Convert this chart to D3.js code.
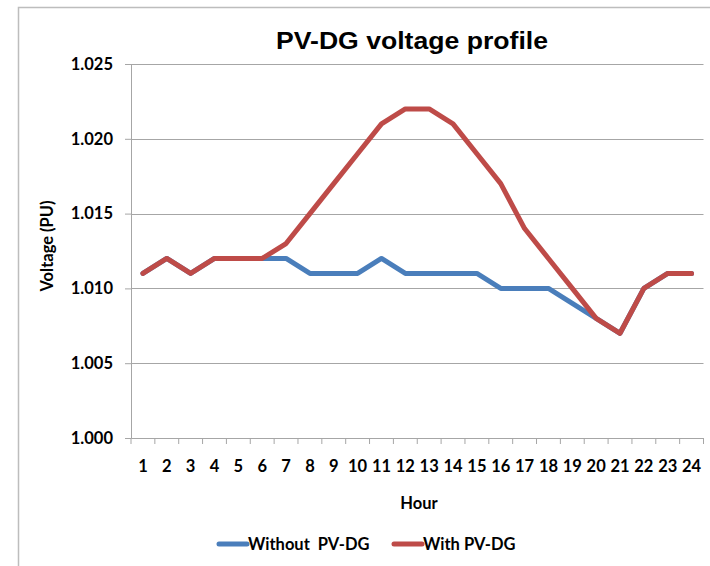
<!DOCTYPE html>
<html>
<head>
<meta charset="utf-8">
<script src="https://cdn.jsdelivr.net/npm/d3@7"></script>
<style>
  body { margin: 0; background: #fff; }
  svg text { fill: #000; }
</style>
</head>
<body>
<div id="chart"></div>
<script>
var hours = ["1","2","3","4","5","6","7","8","9","10","11","12","13","14","15","16","17","18","19","20","21","22","23","24"];
var withoutPV = [1.011,1.012,1.011,1.012,1.012,1.012,1.012,1.011,1.011,1.011,1.012,1.011,1.011,1.011,1.011,1.010,1.010,1.010,1.009,1.008,1.007,1.010,1.011,1.011];
var withPV = [1.011,1.012,1.011,1.012,1.012,1.012,1.013,1.015,1.017,1.019,1.021,1.022,1.022,1.021,1.019,1.017,1.014,1.012,1.010,1.008,1.007,1.010,1.011,1.011];
var yTicks = [1.000,1.005,1.010,1.015,1.020,1.025];
var seriesNames = ["Without  PV-DG","With PV-DG"];
var seriesColors = ["#4a7ebb","#be4b48"];

var width = 710, height = 566;
var plotLeft = 131, plotRight = 703.5, plotTop = 64, plotBottom = 438;
var labelFont = "Lato, 'Open Sans', sans-serif";
var labelSize = 16.5;

var svg = d3.select("#chart").append("svg")
	.attr("width", width)
	.attr("height", height);

// chart frame (only left & top visible in picture)
svg.append("path")
	.attr("d", "M18.5," + height + " V7.5 H" + width)
	.attr("fill", "none")
	.attr("stroke", "#bdbdbd")
	.attr("stroke-width", 1.5);

var x = d3.scaleBand().domain(hours).range([plotLeft, plotRight]);
var y = d3.scaleLinear().domain([1.000, 1.025]).range([plotBottom, plotTop]);

// gridlines
svg.append("g")
	.selectAll("line")
	.data(yTicks.slice(1))
	.enter()
	.append("line")
	.attr("x1", plotLeft).attr("x2", plotRight)
	.attr("y1", function(d) { return Math.round(y(d)) + 0.5; })
	.attr("y2", function(d) { return Math.round(y(d)) + 0.5; })
	.attr("stroke", "#a6a6a6")
	.attr("stroke-width", 1);

// y axis
var yAxis = svg.append("g")
	.attr("transform", "translate(" + plotLeft + ",0)")
	.call(d3.axisLeft(y).tickValues(yTicks).tickFormat(d3.format(".3f")).tickSize(6).tickPadding(12));
yAxis.select(".domain").attr("stroke", "#a6a6a6");
yAxis.selectAll(".tick line").attr("stroke", "#a6a6a6");
yAxis.selectAll("text")
	.attr("font-family", labelFont)
	.attr("font-weight", "bold")
	.attr("font-size", labelSize);

// x axis
var xAxis = svg.append("g")
	.attr("transform", "translate(0," + plotBottom + ")")
	.call(d3.axisBottom(x).tickSize(0).tickPadding(22));
xAxis.select(".domain").attr("stroke", "#a6a6a6");
xAxis.selectAll("text")
	.attr("font-family", labelFont)
	.attr("font-weight", "bold")
	.attr("font-size", labelSize);
// category boundary ticks
xAxis.append("g")
	.selectAll("line")
	.data(hours.concat(["end"]))
	.enter()
	.append("line")
	.attr("x1", function(d, i) { return plotLeft + i * x.step(); })
	.attr("x2", function(d, i) { return plotLeft + i * x.step(); })
	.attr("y1", 0).attr("y2", 6)
	.attr("stroke", "#a6a6a6");

// lines
var line = d3.line()
	.x(function(d, i) { return x(hours[i]) + x.bandwidth() / 2; })
	.y(function(d) { return y(d); });

[withoutPV, withPV].forEach(function(series, k) {
	svg.append("path")
		.datum(series)
		.attr("d", line)
		.attr("fill", "none")
		.attr("stroke", seriesColors[k])
		.attr("stroke-width", 5)
		.attr("stroke-linejoin", "round")
		.attr("stroke-linecap", "round");
});

// title
svg.append("text")
	.attr("x", 412).attr("y", 49)
	.attr("text-anchor", "middle")
	.attr("font-family", "'Liberation Sans', Arial, sans-serif")
	.attr("font-weight", "bold")
	.attr("font-size", 24)
	.attr("textLength", 272)
	.attr("lengthAdjust", "spacingAndGlyphs")
	.text("PV-DG voltage profile");

// axis titles
svg.append("text")
	.attr("x", 419).attr("y", 509)
	.attr("text-anchor", "middle")
	.attr("font-family", labelFont)
	.attr("font-weight", "bold")
	.attr("font-size", labelSize)
	.text("Hour");

svg.append("text")
	.attr("transform", "translate(53,246) rotate(-90)")
	.attr("text-anchor", "middle")
	.attr("font-family", labelFont)
	.attr("font-weight", "bold")
	.attr("font-size", labelSize)
	.text("Voltage (PU)");

// legend
var legendX = [219, 394];
var legend = svg.append("g")
	.selectAll("g")
	.data(seriesNames)
	.enter()
	.append("g")
	.attr("transform", function(d, i) { return "translate(" + legendX[i] + ",544)"; });
legend.append("line")
	.attr("x1", 0).attr("x2", 28)
	.attr("y1", 0).attr("y2", 0)
	.attr("stroke", function(d, i) { return seriesColors[i]; })
	.attr("stroke-width", 5)
	.attr("stroke-linecap", "round");
legend.append("text")
	.attr("x", 29).attr("y", 6)
	.attr("font-family", labelFont)
	.attr("font-weight", "bold")
	.attr("font-size", labelSize)
	.attr("xml:space", "preserve")
	.style("white-space", "pre")
	.text(function(d) { return d; });
</script>
</body>
</html>
